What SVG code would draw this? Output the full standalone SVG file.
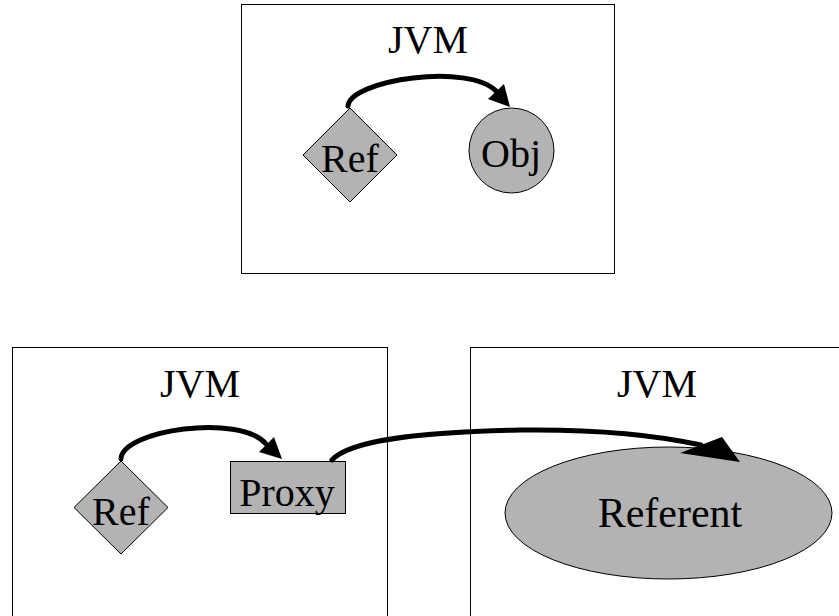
<svg xmlns="http://www.w3.org/2000/svg" width="839" height="616" viewBox="0 0 839 616">
<style>
  .box { fill: #ffffff; stroke: #000000; stroke-width: 1; }
  .shape { fill: #b3b3b3; stroke: #000000; stroke-width: 1; }
  .lbl { font-family: "Liberation Serif", "Times New Roman", serif; font-size: 40px; fill: #000000; text-anchor: middle; }
  .conn { fill: none; stroke: #000000; stroke-width: 5; stroke-linecap: round; }
  .head { fill: #000000; stroke: none; }
</style>
<rect width="839" height="616" fill="#ffffff"/>
<g id="jvm-top">
  <rect class="box" x="241.5" y="4.5" width="373" height="269"/>
  <text class="lbl" x="428" y="53">JVM</text>
</g>
<g id="jvm-left">
  <rect class="box" x="12.5" y="347.5" width="375" height="300"/>
  <text class="lbl" x="200" y="397">JVM</text>
</g>
<g id="jvm-right">
  <rect class="box" x="470.5" y="347.5" width="400" height="300"/>
  <text class="lbl" x="657" y="397">JVM</text>
</g>
<g id="ref-top">
  <polygon class="shape" points="350,108 397,155 350,202 303,155"/>
  <text class="lbl" x="350" y="172">Ref</text>
</g>
<g id="obj">
  <circle class="shape" cx="511.5" cy="150.5" r="42.5"/>
  <text class="lbl" x="511" y="167">Obj</text>
</g>
<g id="ref-bottom">
  <polygon class="shape" points="121,461 168,507.5 121,554 74,507.5"/>
  <text class="lbl" x="121" y="525">Ref</text>
</g>
<g id="proxy">
  <rect class="shape" x="230.5" y="461.5" width="115" height="52"/>
  <text class="lbl" x="287" y="506">Proxy</text>
</g>
<g id="referent">
  <ellipse class="shape" cx="668.5" cy="513" rx="163.5" ry="66"/>
  <text class="lbl" x="670" y="527" style="font-size:42px">Referent</text>
</g>
<g id="connectors">
  <path class="conn" d="M348,106 C350,80 470,62 497,92"/>
  <polygon class="head" points="510,107 488,99 504,84"/>
  <path class="conn" d="M121,459 C122,430 240,413 266,444"/>
  <polygon class="head" points="282,459 259,452 274,437"/>
  <path class="conn" d="M332,460 C350,440 420,432 520,430 C600,429 660,436 701,445"/>
  <polygon class="head" points="740,462 680,453 722,437"/>
</g>
</svg>
